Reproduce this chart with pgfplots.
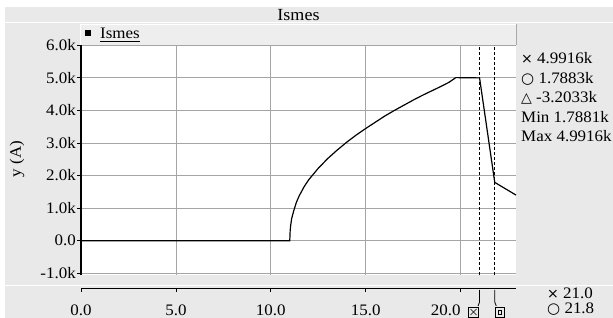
\documentclass[border=0pt]{standalone}
\usepackage{fontspec}
\setmainfont{Liberation Serif}[FakeStretch=1.06]
\newfontfamily\symfont{DejaVu Sans}
\usepackage{pgfplots}
\pgfplotsset{compat=1.18}
\definecolor{bg}{RGB}{233,233,233}
\definecolor{legfill}{RGB}{238,238,238}
\definecolor{gridc}{RGB}{165,165,165}
\definecolor{edge}{RGB}{168,168,168}
\pgfplotstableread{
x y
0.0 0
11.0 0
11.02 0.30
11.05 0.48
11.10 0.68
11.20 0.90
11.35 1.18
11.50 1.38
11.75 1.65
12.00 1.87
12.50 2.22
13.00 2.52
13.50 2.78
14.00 3.02
14.50 3.24
15.00 3.44
15.50 3.63
16.00 3.82
16.50 3.99
17.00 4.15
17.50 4.31
18.00 4.46
18.50 4.60
19.00 4.74
19.40 4.86
19.75 5.00
21.00 4.9916
21.80 1.7883
22.92 1.40
}\ismes
\newcommand{\sx}{{\symfont\fontsize{14pt}{14pt}\selectfont ×}}
\newcommand{\so}{{\symfont\fontsize{15pt}{15pt}\selectfont ○}}
\newcommand{\st}{{\symfont\fontsize{14pt}{14pt}\selectfont △}}
\begin{document}
\fontsize{16pt}{19pt}\selectfont
\begin{tikzpicture}[font=\fontsize{16pt}{19pt}\selectfont]
\useasboundingbox (0pt,0pt) rectangle (613pt,318pt);
\fill[white] (0pt,0pt) rectangle (613pt,318pt);
\fill[bg] (5pt,0pt) rectangle (613pt,311pt);
% title bar separator
\draw[edge,line width=0.8pt] (5pt,296pt) -- (613pt,296pt);
\draw[white,line width=0.6pt] (5pt,295.2pt) -- (613pt,295.2pt);
% bottom separator
\draw[edge,line width=0.8pt] (5pt,33pt) -- (613pt,33pt);
\draw[white,line width=0.6pt] (5pt,32.2pt) -- (613pt,32.2pt);
\node[anchor=base,inner sep=0pt,font=\fontsize{17pt}{19pt}\selectfont] at (298.5pt,297pt) {Ismes};

\begin{axis}[
  at={(81pt,43pt)}, anchor=south west, scale only axis,
  width=435pt, height=230pt,
  xmin=0, xmax=22.92, ymin=-1.05, ymax=6,
  axis background/.style={fill=white},
  axis y line*=left, axis x line*=bottom,
  x axis line style={draw=none},
  y axis line style={line width=2.4pt, black},
  xtick={5,10,15,20}, xticklabels={}, xtick style={draw=none},
  ytick={-1,0,1,2,3,4,5,6},
  yticklabels={-1.0k,0.0,1.0k,2.0k,3.0k,4.0k,5.0k,6.0k},
  ytick style={black, line width=0.7pt},
  tick align=outside, major tick length=4pt,
  grid=major, major grid style={gridc, line width=0.6pt},
  yticklabel style={anchor=east, inner sep=0pt, xshift=-1pt},
  /pgf/number format/assume math mode=true,
  clip=false,
]
\addplot[black, line width=1.2pt] table[x=x,y=y] {\ismes};
\addplot[black, line width=0.8pt, dash pattern=on 3pt off 2pt] coordinates {(21,-1.05) (21,6)};
\addplot[black, line width=0.8pt, dash pattern=on 3pt off 2pt] coordinates {(21.8,-1.05) (21.8,6)};
\end{axis}

% separate bottom x axis
\begin{axis}[
  at={(81pt,30pt)}, anchor=south west, scale only axis,
  width=435pt, height=1pt,
  xmin=0, xmax=22.92, ymin=0, ymax=1,
  axis x line*=bottom, axis y line=none,
  x axis line style={black, line width=0.8pt},
  xtick={0,5,10,15,20},
  xticklabels={0.0,5.0,10.0,15.0,20.0\hphantom{20.0}},
  xtick style={black, line width=0.7pt},
  tick align=outside, major tick length=4pt,
  xticklabel style={anchor=north, inner sep=0pt, yshift=-13pt},
  clip=false,
]
% cursor handles
\draw[black, line width=0.8pt] (axis cs:21,0) ++(0pt,-2pt) -- ++(0pt,-12pt) -- ++(-1.5pt,-4pt);
\draw[black, line width=0.7pt] (axis cs:21,0) ++(-11pt,-19pt) rectangle ++(10pt,-10pt);
\draw[black, line width=0.6pt] (axis cs:21,0) ++(-9pt,-21pt) -- ++(6pt,-6pt);
\draw[black, line width=0.6pt] (axis cs:21,0) ++(-9pt,-27pt) -- ++(6pt,6pt);
\draw[black, line width=0.8pt] (axis cs:21.8,0) ++(0pt,-2pt) -- ++(0pt,-12pt) -- ++(1.5pt,-4pt);
\draw[black, line width=0.7pt] (axis cs:21.8,0) ++(0.5pt,-19pt) rectangle ++(9.5pt,-10pt);
\draw[black, line width=0.6pt] (axis cs:21.8,0) ++(3.5pt,-22.5pt) rectangle ++(3.5pt,-4pt);
\end{axis}

% legend box
\fill[legfill] (80pt,273pt) rectangle (516pt,294pt);
\draw[white,line width=0.8pt] (80pt,273pt) -- (80pt,294pt) -- (516pt,294pt);
\draw[edge,line width=0.8pt] (516pt,294pt) -- (516pt,273pt);
\fill[black] (85pt,281.5pt) rectangle (91pt,287.5pt);
\node[anchor=base west,inner sep=0pt] (leg) at (100pt,279pt) {Ismes};
\draw[black,line width=0.7pt] ([yshift=-2.5pt]leg.base west) -- ([yshift=-2.5pt]leg.base east);

% y label
\node[rotate=90,inner sep=0pt] at (17pt,159pt) {y (A)};

% cursor readouts
\node[anchor=base west,inner sep=0pt] at (521pt,254pt) {\sx\ 4.9916k};
\node[anchor=base west,inner sep=0pt] at (521pt,234.6pt) {\so\ 1.7883k};
\node[anchor=base west,inner sep=0pt] at (521pt,215.2pt) {\st\ -3.2033k};
\node[anchor=base west,inner sep=0pt] at (521pt,195.8pt) {Min 1.7881k};
\node[anchor=base west,inner sep=0pt] at (521pt,176.4pt) {Max 4.9916k};
\node[anchor=base west,inner sep=0pt] at (547pt,19pt) {\sx\ 21.0};
\node[anchor=base west,inner sep=0pt] at (547pt,4pt) {\so\ 21.8};
\end{tikzpicture}
\end{document}
